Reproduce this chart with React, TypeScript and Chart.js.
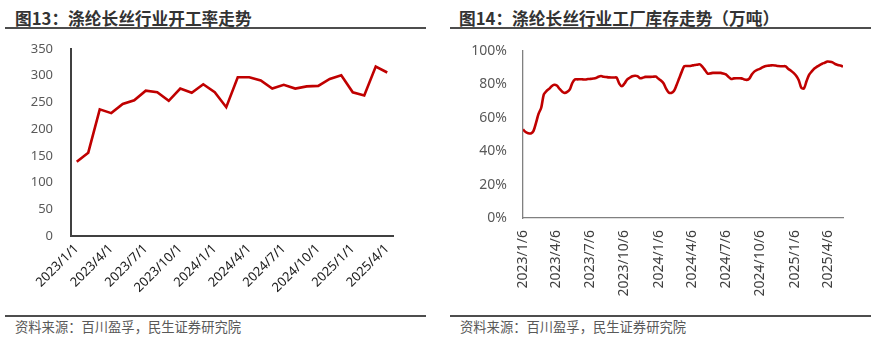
import React, { useEffect, useRef } from "react";
import { Chart, registerables } from "chart.js";

Chart.register(...registerables);

// ---------- Data: 图13 开工率 (monthly) ----------
const rateLabels = [
  "2023/1/1", "2023/2/1", "2023/3/1", "2023/4/1", "2023/5/1", "2023/6/1",
  "2023/7/1", "2023/8/1", "2023/9/1", "2023/10/1", "2023/11/1", "2023/12/1",
  "2024/1/1", "2024/2/1", "2024/3/1", "2024/4/1", "2024/5/1", "2024/6/1",
  "2024/7/1", "2024/8/1", "2024/9/1", "2024/10/1", "2024/11/1", "2024/12/1",
  "2025/1/1", "2025/2/1", "2025/3/1", "2025/4/1",
];
const rateValues = [
  139, 156, 237, 230, 247, 254, 272, 269, 253, 276, 268, 284,
  269, 241, 297, 297, 291, 276, 283, 276, 280, 281, 294, 301,
  269, 263, 317, 306,
];
const rateTicks = [0, 50, 100, 150, 200, 250, 300, 350];

// ---------- Data: 图14 工厂库存 (weekly, from 2023/1/6) ----------
const inventoryStart = "2023/1/6";
const inventoryValues = [
  53, 51.5, 50.8, 50.6, 52, 57, 62.5, 66, 74, 76, 77.3, 78.9, 79.8,
  79.3, 77.4, 75.8, 74.9, 75.5, 77, 81, 83, 83, 83.1, 83, 82.9, 83.2,
  83.3, 83.5, 83.8, 84.6, 85, 84.6, 84.4, 84.2, 84.1, 84.1, 84.1, 80.5, 78.9,
  80.5, 82.9, 84, 84.9, 85.2, 85, 83.7, 84, 84.5, 84.5, 84.5, 84.6, 84.7,
  83.5, 82.3, 80.7, 77.5, 75.2, 74.9, 76, 79.5, 83.5, 87.5, 90.9, 91, 91,
  91.3, 91.6, 91.8, 92, 90.5, 88.5, 86.5, 86.6, 86.9, 86.9, 86.9, 86.9, 86.5,
  86, 84.5, 83.3, 83.6, 83.7, 83.7, 83.6, 83, 82.7, 83.5, 86.1, 87.8, 88.7,
  89.3, 90.2, 90.9, 91.2, 91.3, 91.5, 91.3, 91, 90.9, 90.9, 90.8, 89.2, 88.2,
  86.9, 85.2, 82.5, 77.9, 77.6, 82, 85.8, 87.8, 89.5, 90.6, 91.6, 92.4, 93,
  93.7, 93.6, 93.2, 92.2, 91.6, 91.3, 90.7,
];
const inventoryTickLabels = [
  "2023/1/6", "2023/4/6", "2023/7/6", "2023/10/6", "2024/1/6",
  "2024/4/6", "2024/7/6", "2024/10/6", "2025/1/6", "2025/4/6",
];
const percentTicks = [0, 20, 40, 60, 80, 100];

// ---------- helpers ----------
const DAY = 86400000;
function dayNumber(s: string): number {
  const [y, m, d] = s.split("/").map(Number);
  return Math.round(Date.UTC(y, m - 1, d) / DAY);
}
const startDay = dayNumber(inventoryStart);
const inventoryPoints = inventoryValues.map((v, i) => ({ x: i * 7, y: v }));
const inventoryTickOffsets = inventoryTickLabels.map((l) => dayNumber(l) - startDay);

const NUM_FONT = "'Noto Sans', 'Noto Sans CJK SC', sans-serif";
const CJK_FONT = "'Noto Sans CJK SC', 'Noto Sans', sans-serif";
const RED = "#C00000";

function RateChart() {
  const ref = useRef<HTMLCanvasElement | null>(null);
  useEffect(() => {
    if (!ref.current) return;
    const chart = new Chart(ref.current, {
      type: "line",
      data: {
        labels: rateLabels,
        datasets: [
          {
            data: rateValues,
            borderColor: RED,
            borderWidth: 2.6,
            pointRadius: 0,
            tension: 0,
            fill: false,
          },
        ],
      },
      options: {
        animation: false,
        responsive: false,
        maintainAspectRatio: false,
        layout: { padding: { top: 14, right: 47, left: 0, bottom: 0 } },
        plugins: { legend: { display: false }, tooltip: { enabled: false } },
        scales: {
          x: {
            type: "category",
            offset: true,
            grid: { display: false, drawTicks: false },
            border: { display: true, color: "#404040", width: 2 },
            afterFit: (s: any) => {
              s.height = 74;
            },
            ticks: {
              autoSkip: false,
              maxRotation: 45,
              minRotation: 45,
              padding: 5,
              color: "#1a1a1a",
              font: { family: NUM_FONT, size: 13 },
              callback: (_v: any, i: number) => (i % 3 === 0 ? rateLabels[i] : ""),
            },
          },
          y: {
            min: 0,
            max: 350,
            grid: { display: false, drawTicks: false },
            border: { display: true, color: "#404040", width: 2 },
            afterFit: (s: any) => {
              s.width = 71;
              s.paddingTop = 8;
              s.paddingBottom = 8;
            },
            afterBuildTicks: (s: any) => {
              s.ticks = rateTicks.map((v) => ({ value: v }));
            },
            ticks: {
              padding: 18,
              color: "#595959",
              font: { family: NUM_FONT, size: 13 },
            },
          },
        },
      },
    });
    return () => chart.destroy();
  }, []);
  return <canvas ref={ref} width={440} height={275} style={{ position: "absolute", left: 0, top: 35 }} />;
}

function InventoryChart() {
  const ref = useRef<HTMLCanvasElement | null>(null);
  useEffect(() => {
    if (!ref.current) return;
    const chart = new Chart(ref.current, {
      type: "line",
      data: {
        datasets: [
          {
            data: inventoryPoints,
            borderColor: RED,
            borderWidth: 2.6,
            pointRadius: 0,
            tension: 0.3,
            fill: false,
          },
        ],
      },
      options: {
        animation: false,
        responsive: false,
        maintainAspectRatio: false,
        layout: { padding: { top: 16, right: 51, left: 0, bottom: 0 } },
        plugins: { legend: { display: false }, tooltip: { enabled: false } },
        scales: {
          x: {
            type: "linear",
            min: 0,
            max: (inventoryValues.length - 1) * 7,
            grid: { display: false, drawTicks: false },
            border: { display: true, color: "#808080", width: 1.3 },
            afterFit: (s: any) => {
              s.height = 92;
            },
            afterBuildTicks: (s: any) => {
              s.ticks = inventoryTickOffsets.map((v) => ({ value: v }));
            },
            ticks: {
              autoSkip: false,
              maxRotation: 90,
              minRotation: 90,
              padding: 12,
              color: "#404040",
              font: { family: NUM_FONT, size: 14 },
              callback: (v: any) => {
                const idx = inventoryTickOffsets.indexOf(Number(v));
                return idx >= 0 ? inventoryTickLabels[idx] : "";
              },
            },
          },
          y: {
            min: 0,
            max: 100,
            grid: { display: false, drawTicks: false },
            border: { display: true, color: "#808080", width: 1.3 },
            afterFit: (s: any) => {
              s.width = 76;
              s.paddingTop = 8;
              s.paddingBottom = 8;
            },
            afterBuildTicks: (s: any) => {
              s.ticks = percentTicks.map((v) => ({ value: v }));
            },
            ticks: {
              padding: 16,
              color: "#595959",
              font: { family: NUM_FONT, size: 14 },
              callback: (v: any) => `${v}%`,
            },
          },
        },
      },
    });
    return () => chart.destroy();
  }, []);
  return <canvas ref={ref} width={447} height={275} style={{ position: "absolute", left: 447, top: 35 }} />;
}

const titleStyle: React.CSSProperties = {
  position: "absolute",
  fontFamily: CJK_FONT,
  fontWeight: 700,
  fontSize: 16.7,
  color: "#333333",
  lineHeight: "20px",
  whiteSpace: "nowrap",
};
const sourceStyle: React.CSSProperties = {
  position: "absolute",
  fontFamily: CJK_FONT,
  fontSize: 13.3,
  color: "#595959",
  lineHeight: "16px",
  whiteSpace: "nowrap",
};
const ruleStyle: React.CSSProperties = {
  position: "absolute",
  height: 2.5,
  background: "#4d4d4d",
};

export default function App() {
  return (
    <div style={{ position: "absolute", left: 0, top: 0, width: 894, height: 352, background: "#ffffff", overflow: "hidden" }}>
      <div style={{ ...titleStyle, left: 15, top: 8 }}>图13：涤纶长丝行业开工率走势</div>
      <div style={{ ...ruleStyle, left: 5, top: 26.5, width: 421 }} />
      <div style={{ ...titleStyle, left: 459, top: 8 }}>图14：涤纶长丝行业工厂库存走势（万吨）</div>
      <div style={{ ...ruleStyle, left: 450, top: 26.5, width: 421 }} />
      <RateChart />
      <InventoryChart />
      <div style={{ ...ruleStyle, left: 5, top: 314.5, width: 421 }} />
      <div style={{ ...ruleStyle, left: 450, top: 314.5, width: 421 }} />
      <div style={{ ...sourceStyle, left: 15, top: 319 }}>资料来源：百川盈孚，民生证券研究院</div>
      <div style={{ ...sourceStyle, left: 460, top: 319 }}>资料来源：百川盈孚，民生证券研究院</div>
    </div>
  );
}
